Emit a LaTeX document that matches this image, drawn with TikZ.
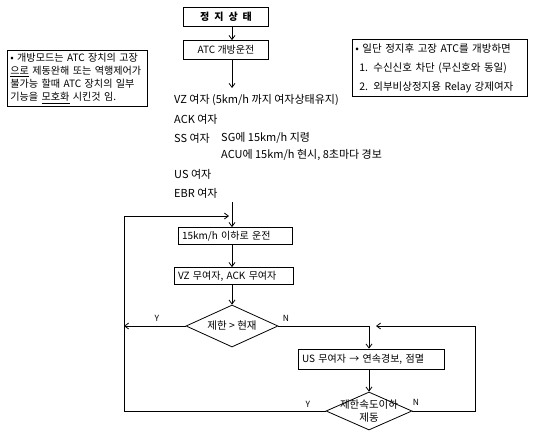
\documentclass[tikz,border=0pt]{standalone}
\usepackage{fontspec}
\setmainfont{Noto Sans CJK KR}
\usetikzlibrary{shapes.geometric,arrows.meta}
\begin{document}
\begin{tikzpicture}[x=1pt,y=-1pt,
  txt/.style={font=\fontsize{11}{13}\selectfont, inner sep=0pt},
  dtxt/.style={font=\fontsize{10.5}{13}\selectfont, inner sep=0pt},
  lbl/.style={font=\fontsize{8.5}{10}\selectfont, inner sep=0pt},
  flowbox/.style={draw, line width=0.8pt, inner sep=0pt, font=\fontsize{10}{12}\selectfont},
  leftbox/.style={draw, line width=0.8pt, inner xsep=4pt, inner ysep=0pt, align=left, font=\fontsize{10}{12}\selectfont},
  notebox/.style={draw, line width=0.8pt, inner xsep=3pt, inner ysep=3pt, align=left, anchor=north west},
  dia/.style={draw, diamond, line width=0.8pt, inner sep=0pt},
  conn/.style={line width=0.8pt},
  arr/.style={conn, -{Straight Barb[length=4pt,width=6pt]}},
]
\useasboundingbox (0,0) rectangle (533,431);

% notes
\node[notebox, text width=134pt, minimum height=56pt, font=\fontsize{10.1}{13}\selectfont] (n1) at (7,50)
  {• 개방모드는 ATC 장치의 고장\\\underline{으로} 제동완해 또는 역행제어가\\불가능 할때 ATC 장치의 일부\\기능을 \underline{모호화} 시킨것 임.};
\node[notebox, text width=169pt, minimum height=57pt, font=\fontsize{10.5}{19}\selectfont] (n2) at (352,39)
  {• 일단 정지후 고장 ATC를 개방하면\\\hspace*{4pt}1. 수신신호 차단 (무신호와 동일)\\\hspace*{4pt}2. 외부비상정지용 Relay 강제여자};

\coordinate (ax) at (232,0);
\coordinate (cx) at (369,0);

\node[flowbox, minimum width=85pt, minimum height=19pt, font=\bfseries\fontsize{10}{12}\selectfont] (s1) at (226,17) {정\hspace{5pt}지\hspace{5pt}상\hspace{5pt}태};
\node[flowbox, minimum width=85pt, minimum height=19pt] (s2) at (226,50) {ATC 개방운전};
\draw[arr] (s1.south -| ax) -- (s2.north -| ax);
\coordinate (e1) at (232,88);
\draw[arr] (s2.south -| ax) -- (e1);

\node[txt, anchor=west] (t1) at (174,100) {VZ 여자 (5km/h 까지 여자상태유지)};
\node[txt, anchor=west] (t2) at (174,119) {ACK 여자};
\node[txt, anchor=west] (t3) at (174,138) {SS 여자};
\node[txt, anchor=west] (t3b) at (221,138) {SG에 15km/h 지령};
\node[txt, anchor=west] (t4) at (221,155) {ACU에 15km/h 현시, 8초마다 경보};
\node[txt, anchor=west] (t5) at (174,174) {US 여자};
\node[txt, anchor=west] (t6) at (174,193) {EBR 여자};

\coordinate (e2) at (232,202);
\node[leftbox, text width=106pt, minimum height=17pt] (b3) at (235,236) {15km/h 이하로 운전};
\draw[arr] (e2) -- (b3.north -| ax);
\node[leftbox, text width=111pt, minimum height=17pt] (b4) at (233.5,276) {VZ 무여자, ACK 무여자};
\draw[arr] (b3.south -| ax) -- (b4.north -| ax);

\node[dia, minimum width=92pt, minimum height=42pt, label={[dtxt]center:제한 > 현재}] (d1) at (232,326) {};
\draw[arr] (b4.south -| ax) -- (d1.north);

\coordinate (L1) at (124,216);
\coordinate (j1) at (229,216);
\draw[arr] (d1.west) -- (d1.west -| L1);
\node[lbl] (y1) at (157,318) {Y};
\node[lbl] (nn1) at (286,318) {N};

\node[leftbox, text width=138pt, minimum height=20pt] (b5) at (371,359) {US 무여자 → 연속경보, 점멸};
\draw[arr] (d1.east) -- (d1.east -| cx) -- (b5.north -| cx);

\node[dia, minimum width=86pt, minimum height=38pt, label={[dtxt, align=center]center:제한속도이하\\제동}] (d2) at (369,411) {};
\draw[arr] (b5.south -| cx) -- (d2.north);

\draw[arr] (d2.west) -| (L1) -- (j1);
\node[lbl] (y2) at (308,404) {Y};

\coordinate (R1) at (475,326);
\coordinate (j2) at (376,326);
\draw[arr] (d2.east) -| (R1) -- (j2);
\node[lbl] (nn2) at (416,402) {N};
\end{tikzpicture}
\end{document}
